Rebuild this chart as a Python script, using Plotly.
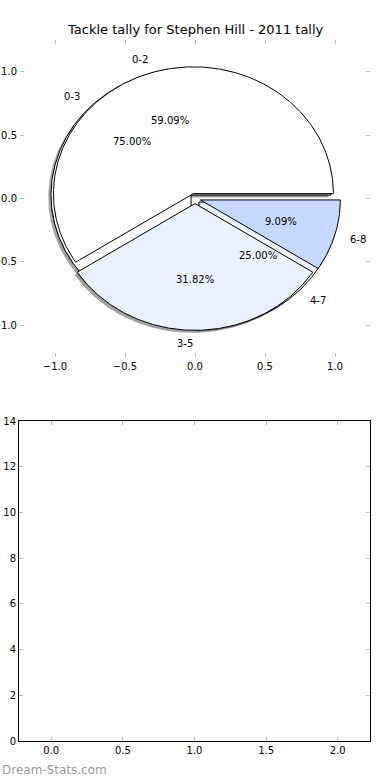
import numpy as np
import plotly.graph_objects as go

# ---------------- data ----------------
chart_title = "Tackle tally for Stephen Hill - 2011 tally"
pie_under_labels = ["0-3", "4-7"]
pie_under_values = [12, 4]
pie_top_labels = ["0-2", "3-5", "6-8"]
pie_top_values = [13, 7, 2]
wedge_colors = ["#ffffff", "#eaf1ff", "#c5d8ff"]
top_x_ticks = [-1.0, -0.5, 0.0, 0.5, 1.0]
top_y_ticks = [-1.0, -0.5, 0.0, 0.5, 1.0]
bottom_x_ticks = [0.0, 0.5, 1.0, 1.5, 2.0]
bottom_y_ticks = [0, 2, 4, 6, 8, 10, 12, 14]
watermark = "Dream-Stats.com"

# ---------------- style ----------------
EXPLODE = 0.04
LABEL_DIST = 1.1
PCT_DIST = 0.6
SHADOW_OFF = -0.02
FONT = "DejaVu Sans"
W, H = 390, 780


def wedge_specs(values):
    total = float(sum(values))
    start = 0.0
    specs = []
    for v in values:
        frac = v / total
        t1 = 360.0 * start
        t2 = 360.0 * (start + frac)
        mid = np.deg2rad((t1 + t2) / 2.0)
        cx = EXPLODE * np.cos(mid)
        cy = EXPLODE * np.sin(mid)
        specs.append((t1, t2, cx, cy, mid, frac))
        start += frac
    return specs


def wedge_poly(t1, t2, cx, cy):
    n = max(int((t2 - t1) * 2), 4)
    ang = np.deg2rad(np.linspace(t1, t2, n))
    xs = np.concatenate([[cx], cx + np.cos(ang), [cx]])
    ys = np.concatenate([[cy], cy + np.sin(ang), [cy]])
    return xs, ys


def shadow_color(hexcol):
    r = int(hexcol[1:3], 16)
    g = int(hexcol[3:5], 16)
    b = int(hexcol[5:7], 16)
    return f"rgba({int(0.3*r)},{int(0.3*g)},{int(0.3*b)},0.5)"


fig = go.Figure()

pies = [
    (pie_under_labels, pie_under_values),
    (pie_top_labels, pie_top_values),
]

# shadows first (beneath every wedge)
for labels, values in pies:
    for i, (t1, t2, cx, cy, mid, frac) in enumerate(wedge_specs(values)):
        xs, ys = wedge_poly(t1, t2, cx, cy)
        fig.add_trace(go.Scatter(
            x=xs + SHADOW_OFF, y=ys + SHADOW_OFF, mode="lines", fill="toself",
            fillcolor=shadow_color(wedge_colors[i % len(wedge_colors)]),
            line=dict(width=0, color="rgba(0,0,0,0)"),
            hoverinfo="skip", showlegend=False, xaxis="x", yaxis="y"))

annotations = []
for labels, values in pies:
    for i, (t1, t2, cx, cy, mid, frac) in enumerate(wedge_specs(values)):
        xs, ys = wedge_poly(t1, t2, cx, cy)
        fig.add_trace(go.Scatter(
            x=xs, y=ys, mode="lines", fill="toself",
            fillcolor=wedge_colors[i % len(wedge_colors)],
            line=dict(width=1, color="black"),
            hoverinfo="skip", showlegend=False, xaxis="x", yaxis="y"))
        lx = cx + LABEL_DIST * np.cos(mid)
        ly = cy + LABEL_DIST * np.sin(mid)
        annotations.append(dict(
            x=lx, y=ly, xref="x", yref="y", text=labels[i], showarrow=False,
            xanchor="left" if lx > 0 else "right", yanchor="middle",
            font=dict(family=FONT, size=10, color="black")))
        px = cx + PCT_DIST * np.cos(mid)
        py = cy + PCT_DIST * np.sin(mid)
        annotations.append(dict(
            x=px, y=py, xref="x", yref="y", text=f"{100*frac:.2f}%",
            showarrow=False, xanchor="center", yanchor="middle",
            font=dict(family=FONT, size=10, color="black")))

# empty lower axes
fig.add_trace(go.Scatter(x=[], y=[], xaxis="x2", yaxis="y2", showlegend=False))

annotations.append(dict(
    x=195 / W, y=1 - 30 / H, xref="paper", yref="paper", text=chart_title,
    showarrow=False, xanchor="center", yanchor="middle",
    font=dict(family=FONT, size=13, color="black")))
annotations.append(dict(
    x=0, y=1 - 770 / H, xref="paper", yref="paper", text=watermark,
    showarrow=False, xanchor="left", yanchor="middle",
    font=dict(family=FONT, size=12, color="#9a9a9a")))

tick_common = dict(
    ticks="inside", ticklen=4, tickwidth=1, tickcolor="#bdbdbd",
    showgrid=False, zeroline=False, automargin=False,
    tickfont=dict(family=FONT, size=10, color="black"),
)

fig.update_layout(
    width=W, height=H,
    margin=dict(l=0, r=0, t=0, b=0),
    paper_bgcolor="white", plot_bgcolor="white",
    showlegend=False,
    annotations=annotations,
    xaxis=dict(domain=[20 / W, 370 / W], range=[-1.25, 1.25],
               tickvals=top_x_ticks, tickformat=".1f",
               showline=True, linecolor="rgba(0,0,0,0)", mirror="ticks",
               anchor="y", **tick_common),
    yaxis=dict(domain=[1 - 357 / H, 1 - 40 / H], range=[-1.25, 1.25],
               tickvals=top_y_ticks, tickformat=".1f",
               showline=True, linecolor="rgba(0,0,0,0)", mirror="ticks",
               anchor="x", **tick_common),
    xaxis2=dict(domain=[19 / W, 370 / W], range=[-0.225, 2.225],
                tickvals=bottom_x_ticks, tickformat=".1f",
                showline=True, linecolor="black", linewidth=1, mirror="ticks",
                anchor="y2", **tick_common),
    yaxis2=dict(domain=[1 - 741 / H, 1 - 421 / H], range=[0, 14],
                tickvals=bottom_y_ticks, tickformat="d",
                showline=True, linecolor="black", linewidth=1, mirror="ticks",
                anchor="x2", **tick_common),
)

fig.write_html(
    "out.html",
    config={"displayModeBar": False},
    post_script="document.body.style.margin='0';document.body.style.padding='0';",
)
